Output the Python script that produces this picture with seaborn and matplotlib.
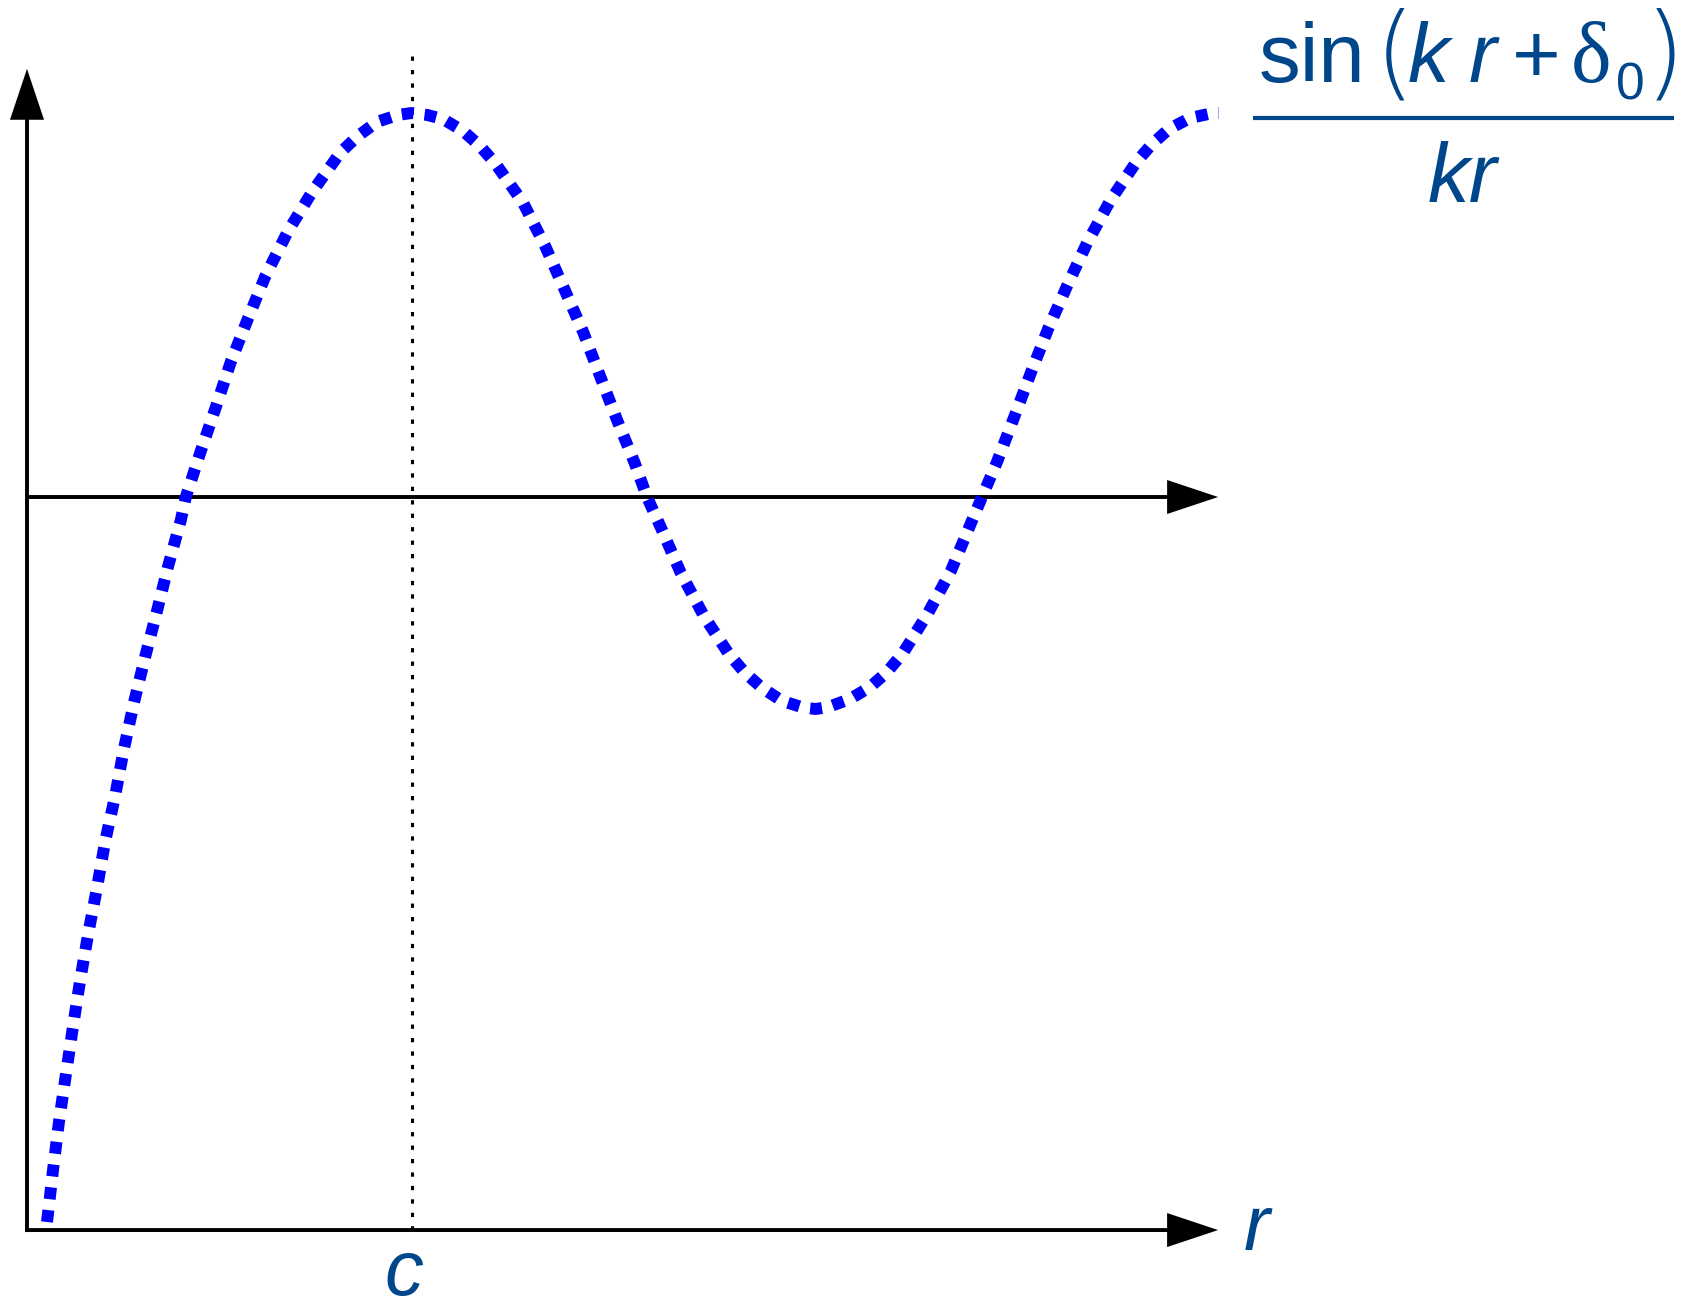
import matplotlib
matplotlib.use("Agg")
import matplotlib.pyplot as plt
from matplotlib.lines import Line2D
from matplotlib import font_manager
import seaborn as sns

# Radial wavefunction sampled along r (r in units of c, psi normalised to its peak)
r_vals = [0.052, 0.068, 0.083, 0.101, 0.119, 0.138, 0.159, 0.182, 0.203, 0.229,
          0.252, 0.278, 0.307, 0.338, 0.367, 0.400, 0.413, 0.452, 0.491, 0.530,
          0.575, 0.621, 0.679, 0.741, 0.814, 0.858, 0.910, 0.965, 1.000, 1.040,
          1.082, 1.134, 1.178, 1.219, 1.290, 1.347, 1.396, 1.446, 1.490, 1.534,
          1.581, 1.612, 1.651, 1.700, 1.760, 1.825, 1.867, 1.911, 1.963, 2.020,
          2.051, 2.083, 2.140, 2.192, 2.236, 2.278, 2.343, 2.402, 2.449, 2.483,
          2.522, 2.566, 2.610, 2.655, 2.704, 2.756, 2.816, 2.884, 2.925, 2.969,
          3.024, 3.084, 3.099]
psi_vals = [-1.888, -1.750, -1.628, -1.505, -1.383, -1.260, -1.138, -1.018, -0.898, -0.779,
            -0.656, -0.536, -0.417, -0.297, -0.180, -0.060, 0.000, 0.120, 0.234, 0.352,
            0.466, 0.578, 0.693, 0.794, 0.896, 0.938, 0.977, 0.995, 1.000, 0.995,
            0.984, 0.953, 0.914, 0.867, 0.766, 0.654, 0.544, 0.430, 0.315, 0.201,
            0.086, 0.000, -0.086, -0.198, -0.310, -0.409, -0.458, -0.497, -0.531, -0.549,
            -0.552, -0.547, -0.526, -0.495, -0.456, -0.406, -0.302, -0.193, -0.081, 0.000,
            0.091, 0.206, 0.323, 0.438, 0.549, 0.661, 0.771, 0.872, 0.919, 0.958,
            0.987, 1.000, 1.000]

# Marked radius and axis extents
c_pos = 1.0
r_axis_end = 3.097
psi_axis_top = 1.115
psi_floor = -1.909
c_line_top = 1.159

# Labels
formula_parts = ["sin", "(", "k", "r", "+", "δ", "0", ")"]
denominator = "kr"
c_label = "c"
r_label = "r"

sns.set_style("white")
plt.rcParams["font.family"] = ["Liberation Sans", "DejaVu Sans"]

W, H, DPI = 1685, 1302, 100
fig = plt.figure(figsize=(W / DPI, H / DPI), dpi=DPI)
ax = fig.add_axes([0, 0, 1, 1])

# Pixel geometry of the coordinate frame
X0, Y0, SX, SY = 27.0, 497.0, 384.6, 384.0
ax.set_xlim(-X0 / SX, (W - X0) / SX)
ax.set_ylim((Y0 - H) / SY, Y0 / SY)
ax.axis("off")

def fxy(x_px, y_px):
    return x_px / W, 1 - y_px / H

ink = "#00468B"

# Thin parentheses: prefer an extra-light face when one is installed
paren_props = dict(family=["Liberation Serif"])
paren_size, paren_base = 76, 82
for f in font_manager.fontManager.ttflist:
    if f.name == "DejaVu Sans" and f.weight in (200, "extra light", "ultralight"):
        paren_props = dict(family=["DejaVu Sans"], fontweight=200)
        paren_size, paren_base = 74, 86
        break

# Axes with arrow heads
shaft = 3.9 / SY
hw, hl = 34 / SY, 51 / SX
ax.arrow(0, psi_floor - 2 / SY, 0, psi_axis_top - psi_floor + 2 / SY, width=shaft,
         head_width=hw, head_length=hl, length_includes_head=True,
         color="black", lw=0, zorder=2)
ax.arrow(-2 / SX, psi_floor, r_axis_end + 2 / SX, 0, width=shaft,
         head_width=hw, head_length=hl, length_includes_head=True,
         color="black", lw=0, zorder=2)
ax.arrow(0, 0, r_axis_end, 0, width=shaft,
         head_width=hw, head_length=hl, length_includes_head=True,
         color="black", lw=0, zorder=2)

# Dotted marker at r = c
ax.plot([c_pos, c_pos], [psi_floor, c_line_top], color="black", lw=2.2,
        linestyle=(0, (1.4, 3.0)), zorder=1)

# Wavefunction curve
sns.lineplot(x=r_vals, y=psi_vals, ax=ax, color="#0000FF", linewidth=8.6,
             linestyle=(0, (1.0, 0.92)), zorder=3)

# Formula label
fs = 60
fig.text(*fxy(1259, 82), formula_parts[0], fontsize=fs, color=ink, va="baseline")
fig.text(*fxy(1375, paren_base), formula_parts[1], fontsize=paren_size, color=ink,
         va="baseline", **paren_props)
fig.text(*fxy(1408, 82), formula_parts[2], fontsize=fs, color=ink, va="baseline",
         style="italic")
fig.text(*fxy(1469, 82), formula_parts[3], fontsize=fs, color=ink, va="baseline",
         style="italic")
fig.text(*fxy(1512, 82), formula_parts[4], fontsize=fs, color=ink, va="baseline")
fig.text(*fxy(1571, 82), formula_parts[5], fontsize=62, color=ink, va="baseline",
         family=["Liberation Serif"])
fig.text(*fxy(1616, 100), formula_parts[6], fontsize=37, color=ink, va="baseline")
fig.text(*fxy(1645, paren_base), formula_parts[7], fontsize=paren_size, color=ink,
         va="baseline", **paren_props)
fig.add_artist(Line2D([1253 / W, 1674 / W], [1 - 118 / H, 1 - 118 / H],
                      color=ink, lw=3.0, solid_capstyle="butt"))
fig.text(*fxy(1462, 202), denominator, fontsize=fs, color=ink, va="baseline",
         ha="center", style="italic")

# Axis labels
fig.text(*fxy(404, 1295), c_label, fontsize=56, color=ink, va="baseline",
         ha="center", style="italic")
fig.text(*fxy(1244, 1250), r_label, fontsize=56, color=ink, va="baseline",
         style="italic")

fig.savefig("out.png", dpi=DPI, facecolor="white")
